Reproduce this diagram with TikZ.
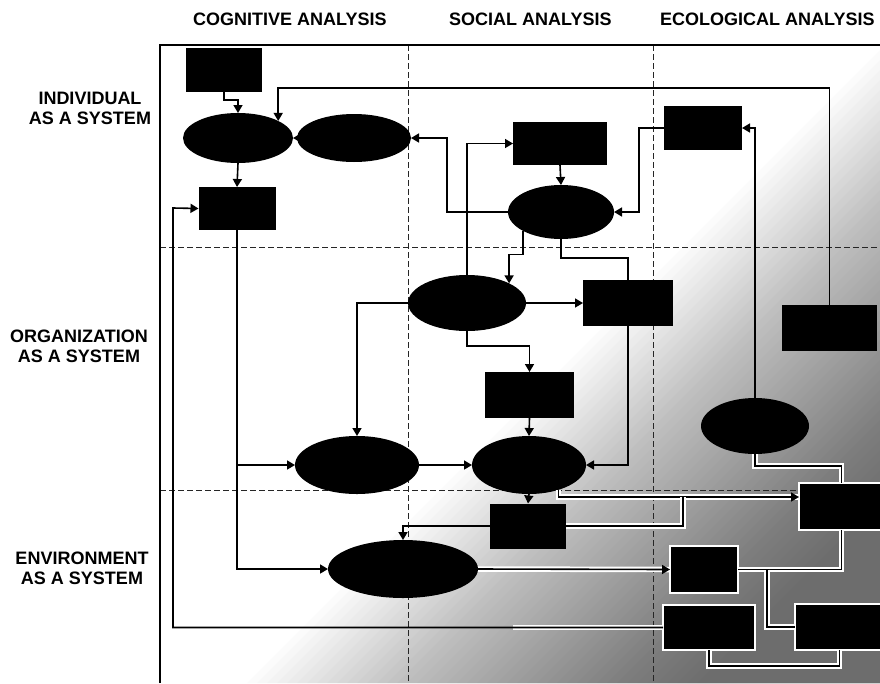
\documentclass[tikz,border=0pt]{standalone}
\usepackage{fontspec}
\setmainfont{Liberation Sans}
\usetikzlibrary{arrows.meta,shapes.geometric}
\begin{document}
\begin{tikzpicture}[x=1pt,y=-1pt,
  boxnode/.style={rectangle,fill=black,draw=none,inner sep=0pt,outer sep=0pt},
  ovalnode/.style={ellipse,fill=black,draw=none,inner sep=0pt,outer sep=0pt},
  rimmed/.style={draw=white,line width=2pt},
  link/.style={line width=1.6pt,black},
  arr/.style={link,-{Triangle[length=8pt,width=9pt]}},
  halo/.style={preaction={draw=white,line width=5.5pt,-}},
  divider/.style={line width=0.8pt,black!85,dash pattern=on 6pt off 3pt},
  framing/.style={line width=1.4pt,black},
  heading/.style={font=\bfseries\fontsize{18}{20}\selectfont,anchor=base west,inner sep=0pt},
  rowlabel/.style={font=\bfseries\fontsize{18}{20}\selectfont,align=center,inner sep=0pt}]

\useasboundingbox (0,0) rectangle (880,683);
\fill[white] (0,0) rectangle (880,683);

% shaded lower-right zone: stacked translucent bands beyond the diagonal x+y=c
\begin{scope}
  \clip (160,45) rectangle (880,683);
  \foreach \c in {930,940,...,1380}{
    \fill[black,opacity=0.014] (880,\c-880) -- (880,683) -- (\c-683,683) -- cycle;
  }
\end{scope}

% column and row dividers
\draw[divider] (408,45) -- (408,683);
\draw[divider] (653,45) -- (653,683);
\draw[divider] (160,247) -- (880,247);
\draw[divider] (160,490) -- (880,490);

% outer frame
\draw[framing] (160,683) -- (160,45) -- (880,45);

% headings
\node[heading] (hc) at (193,25) {COGNITIVE ANALYSIS};
\node[heading] (hs) at (449,25) {SOCIAL ANALYSIS};
\node[heading] (he) at (660,25) {ECOLOGICAL ANALYSIS};
\node[rowlabel] (ri) at (90,108) {INDIVIDUAL\\AS A SYSTEM};
\node[rowlabel] (ro) at (79,346) {ORGANIZATION\\AS A SYSTEM};
\node[rowlabel] (re) at (82,568) {ENVIRONMENT\\AS A SYSTEM};

% individual level
\node[boxnode, minimum width=76pt, minimum height=44pt] (B1) at (224,70) {};
\node[ovalnode, minimum width=110pt, minimum height=50pt] (E1) at (238,138) {};
\node[ovalnode, minimum width=114pt, minimum height=48pt] (E2) at (354,138) {};
\node[boxnode, minimum width=77pt, minimum height=43pt] (B2) at (237,208.5) {};
\node[boxnode, minimum width=94pt, minimum height=43pt] (B3) at (560,143.5) {};
\node[ovalnode, minimum width=106pt, minimum height=54pt] (E3) at (561,212) {};
\node[boxnode, minimum width=78pt, minimum height=44pt] (B4) at (703,128) {};

% organization level
\node[ovalnode, minimum width=118pt, minimum height=56pt] (E4) at (467,303) {};
\node[boxnode, minimum width=90pt, minimum height=46pt] (B5) at (628,303) {};
\node[boxnode, minimum width=89pt, minimum height=46pt] (B6) at (529.5,395) {};
\node[ovalnode, minimum width=124pt, minimum height=58pt] (E5) at (357,465) {};
\node[ovalnode, minimum width=114pt, minimum height=58pt] (E6) at (529,465) {};
\node[ovalnode, minimum width=108pt, minimum height=56pt] (E7) at (755,426) {};
\node[boxnode, minimum width=95pt, minimum height=46pt] (R1) at (829.5,328) {};

% environment level
\node[boxnode, minimum width=76pt, minimum height=45pt] (B7) at (528,526) {};
\node[ovalnode, minimum width=150pt, minimum height=58pt] (E8) at (403,569) {};
\node[boxnode, rimmed, minimum width=85pt, minimum height=47pt] (R2) at (841.5,506.5) {};
\node[boxnode, rimmed, minimum width=68pt, minimum height=47pt] (B9) at (704,569.5) {};
\node[boxnode, rimmed, minimum width=92pt, minimum height=45pt] (B10) at (709,627.5) {};
\node[boxnode, rimmed, minimum width=89pt, minimum height=46pt] (B11) at (839.5,627) {};

\coordinate (J) at (683,497);
\coordinate (F) at (173,208);

% connectors, individual level
\draw[arr] (B1.south) -- ++(0,8) -| (E1.north);
\draw[arr] (E1.south) -- (B2.north);
\draw[arr] (E2.west) -- (E1.east);
\draw[arr] (R1.north) -- ++(0,-217) -| (E1.23);
\draw[arr] (E3.west) -- ++(-61,0) |- (E2.east);
\draw[arr] (E4.north) |- (B3.west);
\draw[arr] (B3.south) -- (E3.north);
\draw[arr] (B4.west) -- ++(-25,0) |- (E3.east);
\draw[arr] (E7.north) |- (B4.east);

% connectors, organization level
\draw[arr] (E3.206) -- ++(0,24) -| (E4.25);
\draw[link] (E3.south) -- ++(0,19) -| (B5.north);
\draw[arr] (E4.east) -- (B5.west);
\draw[arr] (E4.south) -- ++(0,15) -| (B6.north);
\draw[arr] (E4.west) -| (E5.north);
\draw[arr] (B6.south) -- (E6.north);
\draw[arr] (E5.east) -- (E6.west);
\draw[arr] (B5.south) |- (E6.east);
\draw[arr] (B2.south) |- (E8.west);
\draw[arr] (B2.south |- E5.west) -- (E5.west);
\draw[arr] (E6.south) -- (B7.north);

% connectors, environment level
\draw[arr] (B7.west) -| (E8.north);
\draw[arr,halo] (E8.east) -- (B9.west);
\draw[link,halo] (E7.south) -- ++(0,12) -| (R2.north);
\draw[arr,halo] (E6.-40) |- ([yshift=9.5pt]R2.west);
\draw[link,halo] (B7.east) -| (J);
\draw[link,halo] (R2.south) |- (B9.east);
\draw[link,halo] ([xshift=29pt]B9.east) |- (B11.west);
\draw[link,halo] (B10.south) -- ++(0,16) -| (B11.south);
\draw[white,line width=5.5pt] (B10.west) -- ++(-150,0);
\draw[arr] (B10.west) -| (F) -- (B2.west);

\end{tikzpicture}
\end{document}
